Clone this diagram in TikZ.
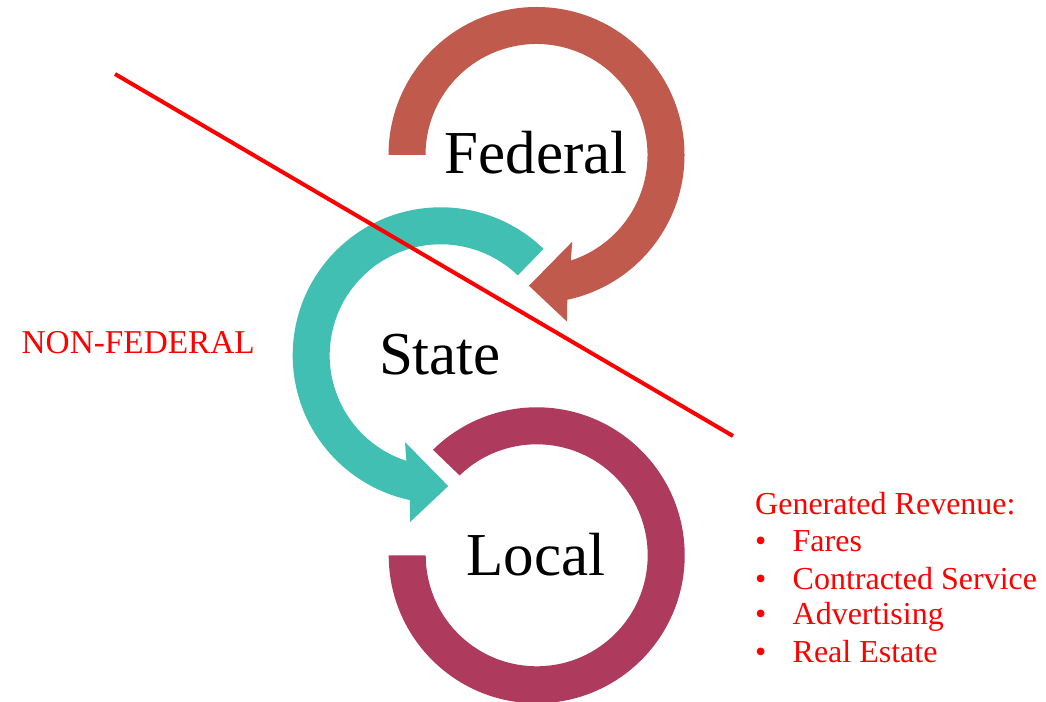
\documentclass[tikz,border=0pt]{standalone}
\usepackage{fontspec}
\setmainfont{Liberation Serif}
\usetikzlibrary{calc}
\definecolor{fedcol}{RGB}{192,90,77}
\definecolor{statecol}{RGB}{65,191,179}
\definecolor{localcol}{RGB}{174,58,94}
\definecolor{linered}{RGB}{255,0,0}
\tikzset{
  bigtext/.style={font=\fontsize{61}{61}\selectfont, text=black, inner sep=0pt, anchor=base},
  redtext/.style={font=\fontsize{32}{32}\selectfont, text=linered, inner sep=0pt, anchor=base west},
  divider/.style={draw=linered, line width=4pt}
}
\newcommand{\bul}{\makebox[37.5pt][l]{•}}
\begin{document}
\begin{tikzpicture}[x=1pt,y=1pt]
\useasboundingbox (0,0) rectangle (1046,701);
\fill[white] (0,0) rectangle (1046,701);
% centers
\coordinate (cf) at (536.5,546);
\coordinate (cs) at (440.7,345.7);
\coordinate (cl) at (536.7,145.7);
% Federal arrow (clockwise)
\fill[fedcol] ($(cf)+(180:148)$) arc[start angle=180, end angle=-78, radius=148]
  -- ($(cf)+(-79.6:169.5)$) -- ($(cf)+(-93.3:131)$) -- ($(cf)+(-67.6:93.8)$)
  -- ($(cf)+(-72:111)$) arc[start angle=-72, end angle=180, radius=111] -- cycle;
% State arrow (counter-clockwise)
\fill[statecol] ($(cs)+(46:148)$) arc[start angle=46, end angle=258, radius=148]
  -- ($(cs)+(259.6:169.5)$) -- ($(cs)+(273.3:131)$) -- ($(cs)+(247.6:93.8)$)
  -- ($(cs)+(252:111)$) arc[start angle=252, end angle=46, radius=111] -- cycle;
% Local ring
\fill[localcol] ($(cl)+(180:148)$) arc[start angle=180, end angle=494.5, radius=148]
  -- ($(cl)+(494:111)$) arc[start angle=494, end angle=180, radius=111] -- cycle;
% labels
\node[bigtext] (federal) at (536,527) {Federal};
\node[bigtext] (state) at (440,326) {State};
\node[bigtext] (local) at (536,125) {Local};
% divider line
\coordinate (l1) at (115,627);
\coordinate (l2) at (733,265);
\draw[divider] (l1) -- (l2);
% texts
\node[redtext, font=\fontsize{33.3}{33.3}\selectfont] (nonfed) at (21.5,347) {NON-FEDERAL};
\node[redtext] (genrev) at (755,186) {Generated Revenue:};
\node[redtext] (fares) at (755,149.3) {\bul Fares};
\node[redtext] (contr) at (755,111.7) {\bul Contracted Service};
\node[redtext] (advert) at (755,76) {\bul Advertising};
\node[redtext] (realest) at (755,38.3) {\bul Real Estate};
\end{tikzpicture}
\end{document}
